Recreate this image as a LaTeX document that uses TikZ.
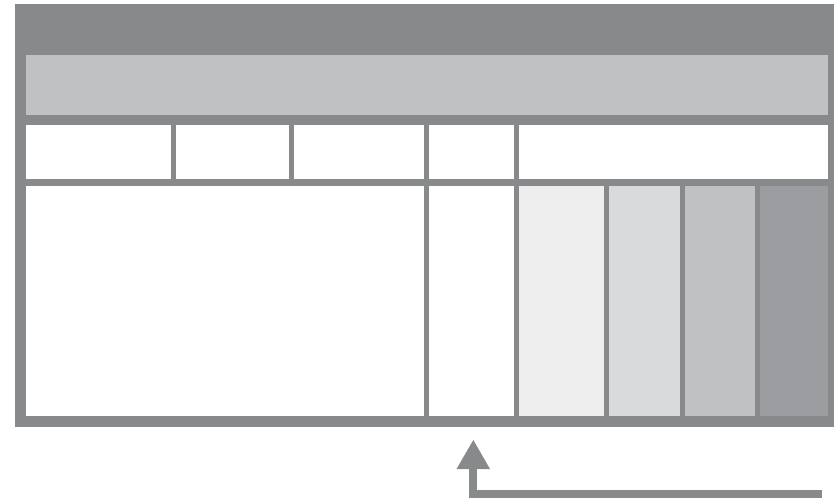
\documentclass[tikz,border=0pt]{standalone}
\usetikzlibrary{arrows.meta}
\definecolor{frame}{HTML}{88898B}
\definecolor{band}{HTML}{C0C1C3}
\definecolor{shadeA}{HTML}{EEEEEE}
\definecolor{shadeB}{HTML}{D9DADC}
\definecolor{shadeC}{HTML}{C0C1C3}
\definecolor{shadeD}{HTML}{9C9DA1}
\tikzset{
  cell/.style={fill=#1, draw=none},
  cell/.default=white,
  pointer/.style={draw=frame, line width=8.5pt, line join=miter},
}
\begin{document}
\begin{tikzpicture}[x=1pt, y=-1pt]
  \useasboundingbox (0,0) rectangle (834,498);
  % outer frame
  \fill[frame] (15,4) rectangle (834,427);
  % header band
  \fill[cell=band] (26,55) rectangle (828,115);
  % second row of cells
  \fill[cell] (26,125) rectangle (171,179);
  \fill[cell] (176,125) rectangle (289,179);
  \fill[cell] (294,125) rectangle (424,179);
  \fill[cell] (429,125) rectangle (514,179);
  \fill[cell] (519,125) rectangle (828,179);
  % body cells
  \fill[cell] (26,186) rectangle (424,416);
  \fill[cell] (429,186) rectangle (514,416);
  \fill[cell=shadeA] (519,186) rectangle (604,416);
  \fill[cell=shadeB] (609,186) rectangle (680,416);
  \fill[cell=shadeC] (685,186) rectangle (755,416);
  \fill[cell=shadeD] (760,186) rectangle (828,416);
  % return arrow
  \coordinate (tail) at (822,494);
  \coordinate (bend) at (473,494);
  \coordinate (neck) at (473,468);
  \draw[pointer] (tail) -- (bend) -- (neck);
  \fill[frame] (456.5,469) -- (490,469) -- (473.3,440) -- cycle;
\end{tikzpicture}
\end{document}
